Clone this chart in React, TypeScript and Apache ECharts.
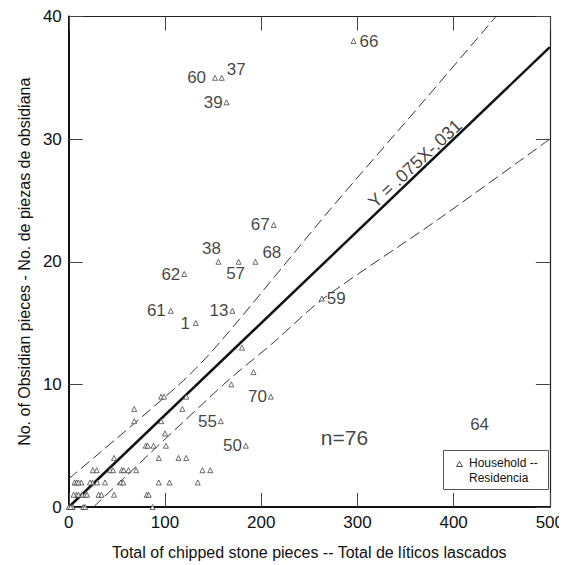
import React, { useEffect, useRef } from "react";
import * as echarts from "echarts";

// Unlabeled household points (total chipped stone, obsidian pieces)
const pointX = [
  180, 192, 169, 122, 96, 99, 118, 68, 68, 96, 100, 80, 82, 88, 101, 47, 93.5, 114, 122, 25, 29, 43, 46, 55, 57, 62, 70, 139, 147,
  6, 8, 13, 24.5, 29.5, 37.6, 54, 56.5, 93.5, 104.7, 134,
  8, 10, 14, 17, 31, 34, 47, 81, 83,
  1, 3, 4, 15, 17, 87,
  0, 2, 5, 10, 19, 22,
];
const pointY = [
  13, 11, 10, 9, 9, 9, 8, 8, 7, 7, 6, 5, 5, 5, 5, 4, 4, 4, 4, 3, 3, 3, 3, 3, 3, 3, 3, 3, 3,
  2, 2, 2, 2, 2, 2, 2, 2, 2, 2, 2,
  1, 1, 1, 1, 1, 1, 1, 1, 1,
  0, 0, 0, 0, 0, 0,
  0, 0, 1, 2, 1, 2,
];

// Labeled households
const labelIds = ["66", "60", "37", "39", "67", "38", "57", "68", "62", "61", "1", "13", "59", "70", "55", "50"];
const labelX = [296, 152, 159, 164, 213, 155.5, 176.5, 194, 120, 106, 132, 170, 263, 210, 158, 184];
const labelY = [38, 35, 35, 33, 23, 20, 20, 20, 19, 16, 15, 16, 17, 9, 7, 5];

// Label with no visible marker
const noteIds = ["64"];
const noteX = [427];
const noteY = [6.7];

// Regression line and confidence bands
const regX = [0, 500];
const regY = [0, 37.5];
const upperX = [0, 119, 160, 271, 370, 444];
const upperY = [2.3, 10.3, 13.7, 24.2, 33.2, 40];
const lowerX = [25.7, 161, 214, 263, 383, 500];
const lowerY = [0, 10.0, 13.5, 16.9, 23.4, 30];

const xTicks = { min: 0, max: 500, interval: 100 };
const yTicks = { min: 0, max: 40, interval: 10 };

const FONT = "Liberation Sans, Arial, sans-serif";
const INK = "#111";

const labelPlacement: Record<string, any> = {
  "66": { position: "right", distance: 3 },
  "60": { position: "left", distance: 6 },
  "37": { position: "right", distance: 2, offset: [0, -8] },
  "39": { position: "left", distance: 1 },
  "67": { position: "left", distance: 1 },
  "38": { position: "top", distance: 2, offset: [-7, 0] },
  "57": { position: "bottom", distance: 2, offset: [-3, -2] },
  "68": { position: "right", distance: 4, offset: [0, -9] },
  "62": { position: "left", distance: 1 },
  "61": { position: "left", distance: 2 },
  "1": { position: "left", distance: 3 },
  "13": { position: "left", distance: 1 },
  "59": { position: "right", distance: 2 },
  "70": { position: "left", distance: 1 },
  "55": { position: "left", distance: 1 },
  "50": { position: "left", distance: 1 },
};

export default function App() {
  const ref = useRef<HTMLDivElement>(null);
  useEffect(() => {
    if (!ref.current) return;
    const chart = echarts.init(ref.current, null, { renderer: "svg" });
    const markerStyle = { color: "#fff", borderColor: "#333", borderWidth: 0.9 };
    const hidden = { color: "rgba(0,0,0,0)", borderWidth: 0 };
    const tickStyle = { show: true, inside: true, length: 14, lineStyle: { color: "#444", width: 1 } };
    const option: any = {
      animation: false,
      backgroundColor: "#fff",
      textStyle: { fontFamily: FONT },
      grid: { left: 55, right: 12, top: 8, bottom: 58 },
      xAxis: [
        {
          type: "value", ...xTicks, position: "bottom",
          name: "Total of chipped stone pieces -- Total de líticos lascados",
          nameLocation: "middle", nameGap: 37,
          nameTextStyle: { fontSize: 16, color: INK, fontFamily: FONT },
          axisLine: { onZero: false, lineStyle: { color: "#111", width: 2 } },
          axisTick: tickStyle,
          axisLabel: { fontSize: 17, color: INK, margin: 7, fontFamily: FONT },
          splitLine: { show: false },
        },
        {
          type: "value", ...xTicks, position: "top",
          axisLine: { onZero: false, lineStyle: { color: "#222", width: 1.2 } },
          axisTick: tickStyle, axisLabel: { show: false }, splitLine: { show: false },
        },
      ],
      yAxis: [
        {
          type: "value", ...yTicks, position: "left",
          name: "No. of Obsidian pieces - No. de piezas de obsidiana",
          nameLocation: "middle", nameGap: 22,
          nameTextStyle: { fontSize: 16, color: INK, fontFamily: FONT },
          axisLine: { onZero: false, lineStyle: { color: "#111", width: 2 } },
          axisTick: tickStyle,
          axisLabel: { fontSize: 17, color: INK, margin: 7, fontFamily: FONT },
          splitLine: { show: false },
        },
        {
          type: "value", ...yTicks, position: "right",
          axisLine: { onZero: false, lineStyle: { color: "#222", width: 1.2 } },
          axisTick: tickStyle, axisLabel: { show: false }, splitLine: { show: false },
        },
      ],
      series: [
        {
          type: "line", data: upperX.map((x, i) => [x, upperY[i]]), symbol: "none", smooth: 0.3,
          lineStyle: { color: "#333", width: 1, type: [11, 5] }, z: 2,
        },
        {
          type: "line", data: lowerX.map((x, i) => [x, lowerY[i]]), symbol: "none", smooth: 0.3,
          lineStyle: { color: "#333", width: 1, type: [11, 5] }, z: 2,
        },
        {
          type: "line", data: regX.map((x, i) => [x, regY[i]]), symbol: "none",
          lineStyle: { color: "#111", width: 2.5 }, z: 3,
        },
        {
          type: "scatter", data: pointX.map((x, i) => [x, pointY[i]]),
          symbol: "triangle", symbolSize: 5, itemStyle: markerStyle, z: 4,
        },
        {
          type: "scatter",
          data: labelIds.map((id, i) => ({
            value: [labelX[i], labelY[i]],
            name: id,
            label: { show: true, formatter: id, ...labelPlacement[id] },
          })),
          symbol: "triangle", symbolSize: 5, itemStyle: markerStyle, z: 4,
          label: { fontSize: 17, color: INK, fontFamily: FONT },
        },
        {
          type: "scatter",
          data: noteIds.map((id, i) => ({ value: [noteX[i], noteY[i]], name: id })),
          symbol: "circle", symbolSize: 1, itemStyle: hidden, z: 5,
          label: { show: true, position: "inside", formatter: "{b}", fontSize: 17, color: INK, fontFamily: FONT },
        },
        {
          type: "scatter",
          data: [
            { value: [360, 28.0], name: "Y = .075X-.031", label: { rotate: 43, fontSize: 18 } },
            { value: [286.6, 5.7], name: "n=76", label: { fontSize: 21 } },
          ],
          symbol: "circle", symbolSize: 1, itemStyle: hidden, z: 5,
          label: { show: true, position: "inside", formatter: "{b}", fontSize: 17, color: INK, fontFamily: FONT },
        },
      ],
      graphic: [
        {
          type: "rect", left: 435, top: 442, z: 10,
          shape: { width: 105, height: 39 },
          style: { fill: "#fff", stroke: "#555", lineWidth: 1 },
        },
        {
          type: "polygon", z: 11,
          shape: { points: [[451.5, 453.5], [448.5, 458.5], [454.5, 458.5]] },
          style: { fill: "#fff", stroke: "#333", lineWidth: 0.9 },
        },
        {
          type: "text", left: 461, top: 447, z: 11,
          style: { text: "Household --\nResidencia", fontSize: 12, lineHeight: 15, fill: INK, font: "12px " + FONT },
        },
      ],
    };
    chart.setOption(option);
    return () => chart.dispose();
  }, []);
  return <div ref={ref} style={{ width: 559, height: 557 }} />;
}
